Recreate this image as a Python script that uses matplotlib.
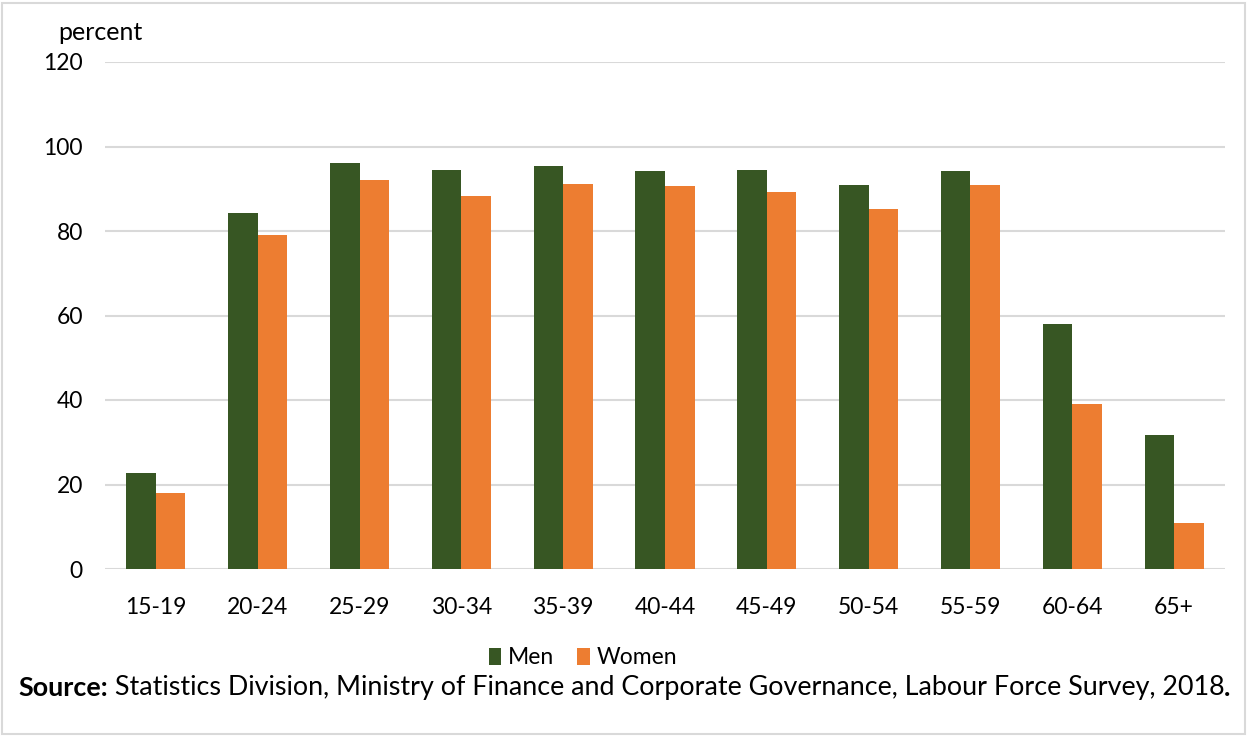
import numpy as np
import matplotlib.pyplot as plt
from matplotlib.patches import Rectangle

plt.rcParams['font.family'] = ['Lato', 'DejaVu Sans']

# labour force participation by age group, percent
age_groups = ['15-19', '20-24', '25-29', '30-34', '35-39', '40-44',
              '45-49', '50-54', '55-59', '60-64', '65+']
men = [22.7, 84.3, 96.2, 94.4, 95.4, 94.2, 94.5, 90.8, 94.2, 57.9, 31.6]
women = [18.0, 79.0, 92.1, 88.4, 91.2, 90.6, 89.2, 85.1, 90.9, 39.0, 10.8]
yticks = [0, 20, 40, 60, 80, 100, 120]

green = '#375623'
orange = '#ed7d31'
grid = '#d9d9d9'
W, H = 1248, 736

fig = plt.figure(figsize=(W / 100, H / 100), dpi=100)
ax = fig.add_axes([105 / W, 1 - 569 / H, 1120 / W, 507 / H])

x = np.arange(len(age_groups))
w = 0.29
ax.bar(x - w / 2, men, w, color=green, label='Men', zorder=3)
ax.bar(x + w / 2, women, w, color=orange, label='Women', zorder=3)

ax.set_xlim(-0.5, len(age_groups) - 0.5)
ax.set_ylim(0, 120)
ax.set_yticks(yticks)
ax.set_xticks(x)
ax.set_xticklabels(age_groups)
ax.tick_params(length=0, labelsize=16.5, colors='black')
ax.tick_params(axis='y', pad=16)
ax.tick_params(axis='x', pad=20)
ax.yaxis.grid(True, color=grid, linewidth=1.5, zorder=0)
for s in ax.spines.values():
    s.set_visible(False)

fig.text(58 / W, 1 - 32 / H, 'percent', fontsize=18, va='center')

ax.legend(loc='center', bbox_to_anchor=(583 / W, 1 - 658 / H), bbox_transform=fig.transFigure,
          ncol=2, frameon=False, fontsize=16.5, handlelength=0.55, handleheight=0.75,
          handletextpad=0.3, columnspacing=1.0)

# source line: bold label, plain text, bold full stop, spread over the width
fig.canvas.draw()
r = fig.canvas.get_renderer()
fs = 19.4
y_src = 1 - 688 / H
parts = [('Source:', 'bold'),
         (' Statistics Division, Ministry of Finance and Corporate Governance, Labour Force Survey, 2018', 'normal'),
         ('.', 'bold')]
xpos = 18
for s, wt in parts:
    t = fig.text(xpos / W, y_src, s, fontsize=fs, fontweight=wt, va='center')
    xpos += t.get_window_extent(r).width

# light frame round the whole figure
fig.patches.append(Rectangle((2 / W, 2 / H), 1243 / W, 731 / H, transform=fig.transFigure,
                             fill=False, edgecolor='#d9d9d9', linewidth=1.5))

fig.savefig('out.png', dpi=100)
